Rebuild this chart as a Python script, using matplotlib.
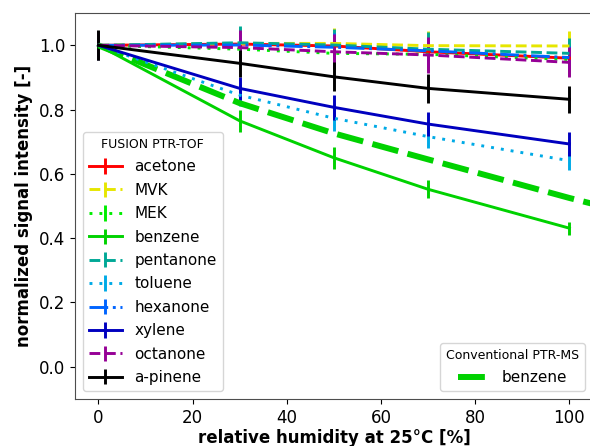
import matplotlib
matplotlib.use("Agg")
import matplotlib.pyplot as plt

rh = [0, 30, 50, 70, 100]

names = ["acetone", "MVK", "MEK", "benzene", "pentanone",
         "toluene", "hexanone", "xylene", "octanone", "a-pinene"]

acetone = [1.0, 1.004, 0.998, 0.980, 0.960]
mvk = [1.0, 1.006, 1.006, 0.999, 0.998]
mek = [1.0, 0.988, 0.975, 0.972, 0.956]
benzene = [1.0, 0.765, 0.650, 0.552, 0.431]
pentanone = [1.0, 1.008, 1.001, 0.988, 0.975]
toluene = [1.0, 0.845, 0.773, 0.716, 0.641]
hexanone = [1.0, 1.001, 0.994, 0.983, 0.962]
xylene = [1.0, 0.866, 0.807, 0.755, 0.693]
octanone = [1.0, 0.993, 0.980, 0.970, 0.947]
apinene = [1.0, 0.944, 0.902, 0.866, 0.832]

acetone_err = [0.04, 0.04, 0.04, 0.04, 0.04]
mvk_err = [0.045, 0.047, 0.047, 0.046, 0.046]
mek_err = [0.045, 0.05, 0.05, 0.055, 0.05]
benzene_err = [0.04, 0.034, 0.034, 0.028, 0.02]
pentanone_err = [0.045, 0.052, 0.05, 0.054, 0.047]
toluene_err = [0.04, 0.035, 0.04, 0.036, 0.03]
hexanone_err = [0.04, 0.04, 0.045, 0.04, 0.035]
xylene_err = [0.04, 0.036, 0.04, 0.037, 0.036]
octanone_err = [0.045, 0.055, 0.055, 0.055, 0.047]
apinene_err = [0.047, 0.041, 0.045, 0.044, 0.042]

conv_rh = [0, 30, 50, 70, 100, 110]
conv_benzene = [1.0, 0.820, 0.726, 0.645, 0.525, 0.488]

values = [acetone, mvk, mek, benzene, pentanone, toluene, hexanone, xylene, octanone, apinene]
errors = [acetone_err, mvk_err, mek_err, benzene_err, pentanone_err, toluene_err,
          hexanone_err, xylene_err, octanone_err, apinene_err]
colors = ["#ff0000", "#e6e600", "#00ee00", "#00d200", "#00a896",
          "#00aae6", "#0064ff", "#0000bf", "#960096", "#000000"]
styles = ["-", "--", (0, (1, 2.4)), "-", "--", (0, (1, 2.4)), "-.", "-", "--", "-"]

fig = plt.figure(figsize=(5.9, 4.46), dpi=100)
ax = fig.add_axes([0.127, 0.1058, 0.878, 0.8646])

handles = []
for v, e, c, ls in zip(values, errors, colors, styles):
    h = ax.errorbar(rh, v, yerr=e, color=c, ls=ls, lw=2.1, elinewidth=2.1, capsize=0)
    handles.append(h)

conv_line, = ax.plot(conv_rh, conv_benzene, color="#00d200", lw=4.3, dashes=(4.5, 1.6))

ax.set_xlim(-5, 105)
ax.set_ylim(-0.1, 1.1)
ax.set_xticks([0, 20, 40, 60, 80, 100])
ax.set_yticks([0.0, 0.2, 0.4, 0.6, 0.8, 1.0])
ax.tick_params(labelsize=12)
for s in ax.spines.values():
    s.set_color("0.3")
ax.set_xlabel("relative humidity at 25°C [%]", fontsize=12, fontweight="bold", labelpad=2)
ax.set_ylabel("normalized signal intensity [-]", fontsize=12, fontweight="bold", labelpad=4)

leg1 = ax.legend(handles, names, loc="lower left", title="FUSION PTR-TOF",
                 fontsize=11, title_fontsize=9, handlelength=2.2, labelspacing=0.55)
ax.add_artist(leg1)
ax.legend([conv_line], ["benzene"], loc="lower right", title="Conventional PTR-MS",
          fontsize=11, title_fontsize=9)

fig.savefig("out.png", dpi=100)
